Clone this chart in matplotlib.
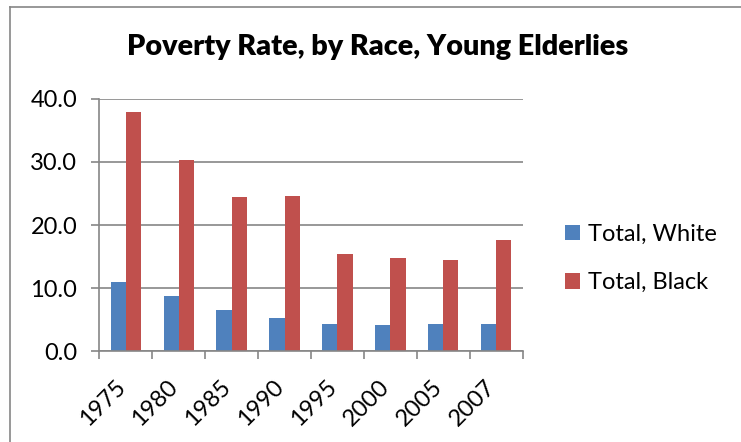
import numpy as np
import matplotlib.pyplot as plt
from matplotlib.lines import Line2D
from matplotlib.transforms import ScaledTranslation

years = ['1975', '1980', '1985', '1990', '1995', '2000', '2005', '2007']
white = [10.9, 8.8, 6.6, 5.2, 4.4, 4.2, 4.3, 4.4]
black = [37.9, 30.3, 24.4, 24.6, 15.4, 14.8, 14.5, 17.7]

plt.rcParams['font.family'] = ['Lato', 'DejaVu Sans']

W, H = 741, 442
fig = plt.figure(figsize=(W / 100, H / 100), dpi=100)
ax = fig.add_axes([99.3 / W, 1 - 351.3 / H, 423.4 / W, 252.6 / H])

x = np.arange(len(years))
bw = 1 / 3.5
ax.bar(x - bw / 2, white, bw, color='#4F81BD', label='Total, White')
ax.bar(x + bw / 2, black, bw, color='#C0504D', label='Total, Black')

grey = '#868686'
ax.set_xlim(-0.5, len(years) - 0.5)
ax.set_ylim(0, 40)
ax.set_yticks(np.arange(0, 41, 10))
ax.set_yticklabels(['%.1f' % v for v in np.arange(0, 41, 10)], fontsize=17)
ax.yaxis.grid(True, color=grey, lw=1.2)
ax.set_axisbelow(True)

ax.set_xticks(x)
ax.set_xticklabels(years, rotation=45, ha='right', va='center',
                   rotation_mode='anchor', fontsize=17)
ax.set_xticks(np.arange(-0.5, len(years)), minor=True)
ax.tick_params(axis='x', which='major', length=0, pad=23)
ax.tick_params(axis='x', which='minor', length=5.8, color=grey, width=1.2)
ax.tick_params(axis='y', length=5.8, color=grey, width=1.2, pad=10)
shift = ScaledTranslation(-4 / 100, 0, fig.dpi_scale_trans)
for lab in ax.get_xticklabels():
    lab.set_transform(lab.get_transform() + shift)

for s in ['top', 'right']:
    ax.spines[s].set_visible(False)
for s in ['left', 'bottom']:
    ax.spines[s].set_color(grey)
    ax.spines[s].set_linewidth(1.2)

fig.text(378 / W, 1 - 47 / H, 'Poverty Rate, by Race, Young Elderlies',
         ha='center', va='center', fontsize=20.7, fontweight='heavy')

fig.legend(loc='center left', bbox_to_anchor=(565 / W, 1 - 258.5 / H), frameon=False,
           fontsize=17, handlelength=0.64, handleheight=0.64, handletextpad=0.34,
           labelspacing=1.15, borderpad=0, borderaxespad=0)

fig.add_artist(Line2D([10 / W, 1], [1 - 6.5 / H] * 2, color=grey, lw=1.2))
fig.add_artist(Line2D([10 / W] * 2, [0, 1 - 6.5 / H], color=grey, lw=1.2))

fig.savefig('out.png', dpi=100)
